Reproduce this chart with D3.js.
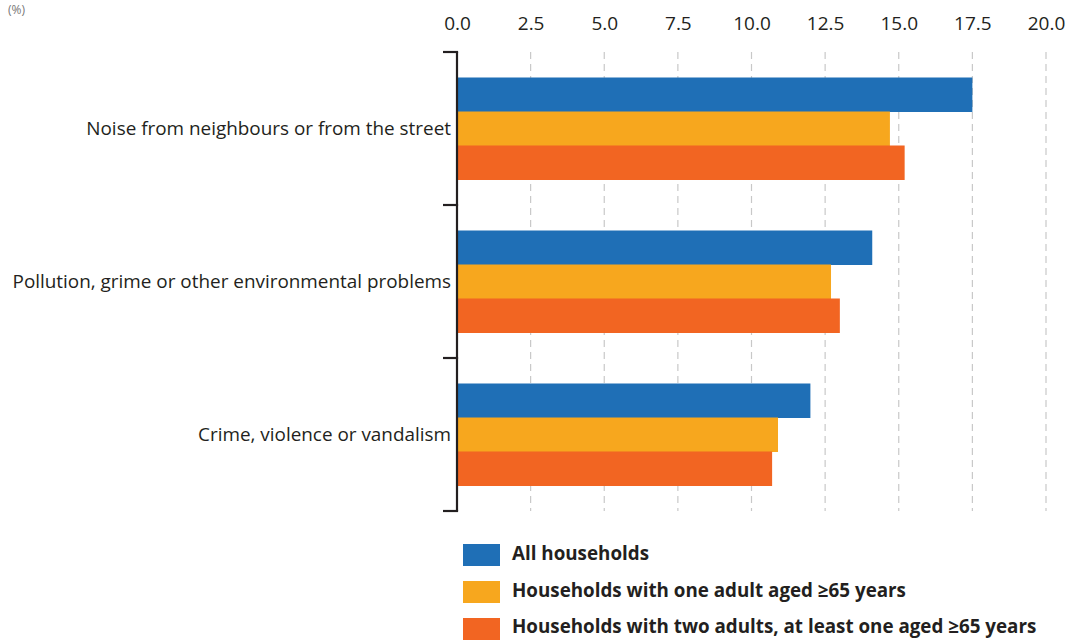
<!DOCTYPE html>
<html><head><meta charset="utf-8">
<script src="https://cdn.jsdelivr.net/npm/d3@7"></script>
<style>
body{margin:0;background:#fff;}
svg{display:block;font-family:"Open Sans",sans-serif;}
</style></head>
<body><svg id="c" width="1065" height="640"></svg>
<script>
const categories = ["Noise from neighbours or from the street","Pollution, grime or other environmental problems","Crime, violence or vandalism"];
const seriesNames = ["All households","Households with one adult aged ≥65 years","Households with two adults, at least one aged ≥65 years"];
const allHouseholds = [17.5, 14.1, 12.0];
const oneAdult65 = [14.7, 12.7, 10.9];
const twoAdults65 = [15.2, 13.0, 10.7];
const tickValues = [0, 2.5, 5, 7.5, 10, 12.5, 15, 17.5, 20];
const colors = ["#1f6fb6", "#f7a71e", "#f26522"];
const unitLabel = "(%)";

const seriesValues = [allHouseholds, oneAdult65, twoAdults65];
const svg = d3.select("#c");
const x = d3.scaleLinear().domain([0,20]).range([457,1046]);
const y = d3.scaleBand().domain(categories).range([52,511]);
const ys = d3.scaleBand().domain(d3.range(3)).range([y.bandwidth()/6, y.bandwidth()*5/6]);
const ink = "#231f20";

svg.append("text").attr("x",8).attr("y",14).attr("font-size",12).attr("fill","#777").text(unitLabel);

// gridlines
svg.append("g").selectAll("line").data(tickValues.filter(d=>d>0)).join("line")
  .attr("x1",d=>x(d)).attr("x2",d=>x(d)).attr("y1",52).attr("y2",511)
  .attr("stroke","#c8c8c8").attr("stroke-width",1.2).attr("stroke-dasharray","7,5");

// top axis labels
const xa = svg.append("g").attr("transform","translate(0,30)").call(d3.axisTop(x).tickValues(tickValues).tickFormat(d3.format(".1f")).tickSize(0).tickPadding(0));
xa.select(".domain").remove();
xa.selectAll("text").attr("font-size",19).attr("fill",ink).attr("font-family","'Open Sans',sans-serif").attr("dy",0);

// bars
categories.forEach((c,i)=>{
  const g = svg.append("g").attr("transform",`translate(0,${y(c)})`);
  g.selectAll("rect").data(seriesValues.map((s,k)=>({k,v:s[i]}))).join("rect")
    .attr("x",x(0)).attr("y",d=>ys(d.k)).attr("width",d=>x(d.v)-x(0)).attr("height",ys.bandwidth()+0.5)
    .attr("fill",d=>colors[d.k]);
});

// left axis with bracket ticks
const ya = svg.append("g").attr("transform",`translate(${x(0)},0)`);
ya.append("line").attr("x1",0).attr("x2",0).attr("y1",52).attr("y2",511).attr("stroke",ink).attr("stroke-width",2.2);
const bounds = [52, ...categories.map(c=>y(c)+y.bandwidth())];
ya.selectAll(".t").data(bounds).join("line").attr("class","t")
  .attr("x1",-14).attr("x2",1.1).attr("y1",d=>d).attr("y2",d=>d).attr("stroke",ink).attr("stroke-width",2.2);
ya.selectAll("text").data(categories).join("text")
  .attr("x",-6).attr("y",c=>y(c)+y.bandwidth()/2).attr("dy","0.35em").attr("text-anchor","end")
  .attr("font-size",18.9).attr("fill",ink).text(d=>d);

// legend
const lg = svg.append("g");
seriesNames.forEach((n,k)=>{
  lg.append("rect").attr("x",463).attr("y",544+k*37).attr("width",37).attr("height",22).attr("fill",colors[k]);
  lg.append("text").attr("x",512).attr("y",554+k*36.6).attr("dy","0.33em").attr("font-size",18.8).attr("font-weight","bold").attr("fill",ink).text(n);
});
</script></body></html>
